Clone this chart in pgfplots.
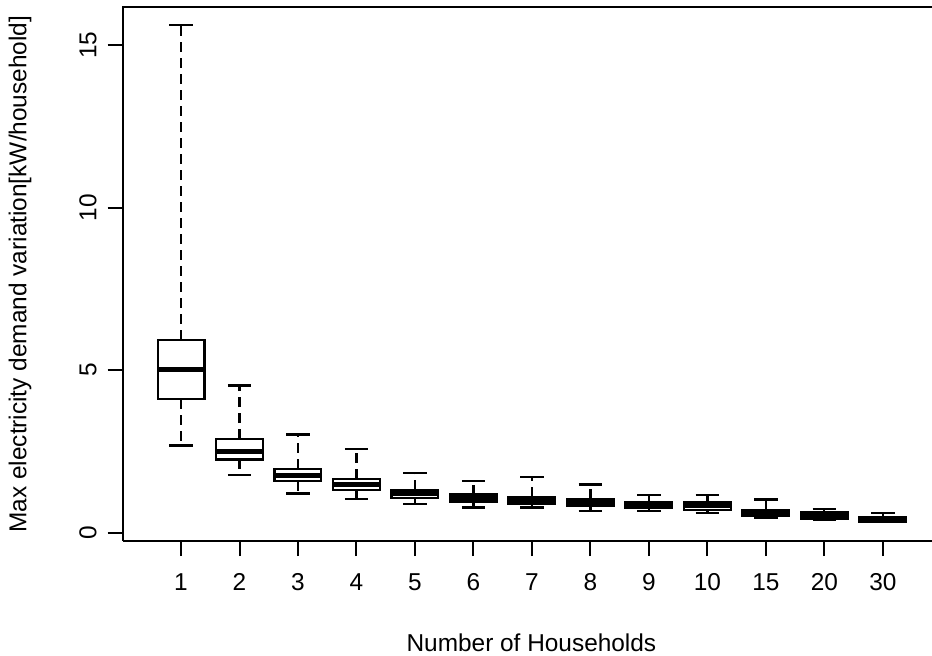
\documentclass[border=0pt]{standalone}
\usepackage{fontspec}
\setmainfont{Liberation Sans}
\usepackage{pgfplots}
\pgfplotsset{compat=1.18}
\usepgfplotslibrary{statistics}
\newcommand{\rbox}[6]{%
  \addplot[black, line width=2.2bp, boxplot prepared={draw position=#1,
     lower whisker=#2, lower quartile=#3, median=#4,
     upper quartile=#5, upper whisker=#6,
     box extend=0.8, whisker extend=0.4}] coordinates {};}
\begin{document}
\begin{tikzpicture}
\begin{axis}[name=ax,
  scale only axis, width=809.3bp, height=533.7bp,
  xmin=0.003, xmax=13.84, ymin=-0.26, ymax=16.17,
  axis x line*=bottom, axis y line*=left,
  axis line style={black, line width=2bp},
  tick style={black, line width=2bp},
  major tick length=15bp, tick align=outside,
  xtick={1,...,13},
  xticklabels={1,2,3,4,5,6,7,8,9,10,15,20,30},
  ytick={0,5,10,15},
  /pgf/number format/assume math mode=true,
  tick label style={font=\fontsize{24.5}{29}\selectfont},
  xticklabel style={anchor=center, yshift=-26bp},
  yticklabel style={rotate=90, anchor=center, yshift=19.7bp},
  label style={font=\fontsize{24.5}{29}\selectfont},
  xlabel={Number of Households},
  xlabel style={at={(axis description cs:0.505,0)}, anchor=center, yshift=-102bp},
  ylabel={Max electricity demand variation[kW/household]},
  ylabel style={at={(axis description cs:0,0.5)}, anchor=center, yshift=102.7bp},
  clip=false,
  boxplot/draw direction=y,
  boxplot/every box/.style={draw=black, line width=2.2bp, fill=white},
  boxplot/every median/.style={draw=black, line width=5bp},
  boxplot/draw/lower whisker/.code={%
    \draw[black, line width=2.2bp, dash pattern=on 10bp off 6bp]
      (boxplot box cs:\pgfplotsboxplotvalue{lower quartile},0.5) --
      (boxplot box cs:\pgfplotsboxplotvalue{lower whisker},0.5);
    \draw[black, line width=2.2bp]
      (boxplot whisker cs:\pgfplotsboxplotvalue{lower whisker},0) --
      (boxplot whisker cs:\pgfplotsboxplotvalue{lower whisker},1);
  },
  boxplot/draw/upper whisker/.code={%
    \draw[black, line width=2.2bp, dash pattern=on 10bp off 6bp]
      (boxplot box cs:\pgfplotsboxplotvalue{upper quartile},0.5) --
      (boxplot box cs:\pgfplotsboxplotvalue{upper whisker},0.5);
    \draw[black, line width=2.2bp]
      (boxplot whisker cs:\pgfplotsboxplotvalue{upper whisker},0) --
      (boxplot whisker cs:\pgfplotsboxplotvalue{upper whisker},1);
  },
  extra description/.code={\draw[black, line width=2bp, line cap=rect] (rel axis cs:0,1) -- (rel axis cs:1,1);},
]
\rbox{1}{2.68}{4.10}{5.02}{5.94}{15.62}
\rbox{2}{1.77}{2.25}{2.50}{2.88}{4.53}
\rbox{3}{1.20}{1.58}{1.76}{1.96}{3.02}
\rbox{4}{1.04}{1.32}{1.48}{1.65}{2.56}
\rbox{5}{0.89}{1.06}{1.19}{1.30}{1.84}
\rbox{6}{0.77}{0.93}{1.06}{1.17}{1.58}
\rbox{7}{0.77}{0.88}{0.99}{1.10}{1.70}
\rbox{8}{0.67}{0.83}{0.93}{1.04}{1.48}
\rbox{9}{0.66}{0.75}{0.84}{0.93}{1.15}
\rbox{10}{0.59}{0.70}{0.82}{0.93}{1.15}
\rbox{11}{0.45}{0.50}{0.58}{0.68}{1.02}
\rbox{12}{0.38}{0.42}{0.52}{0.63}{0.73}
\rbox{13}{0.32}{0.34}{0.42}{0.48}{0.61}
\end{axis}
\pgfresetboundingbox
\useasboundingbox ([shift={(-122.7bp,-115bp)}]ax.south west) rectangle ([shift={(0bp,7.3bp)}]ax.north east);
\end{tikzpicture}
\end{document}
